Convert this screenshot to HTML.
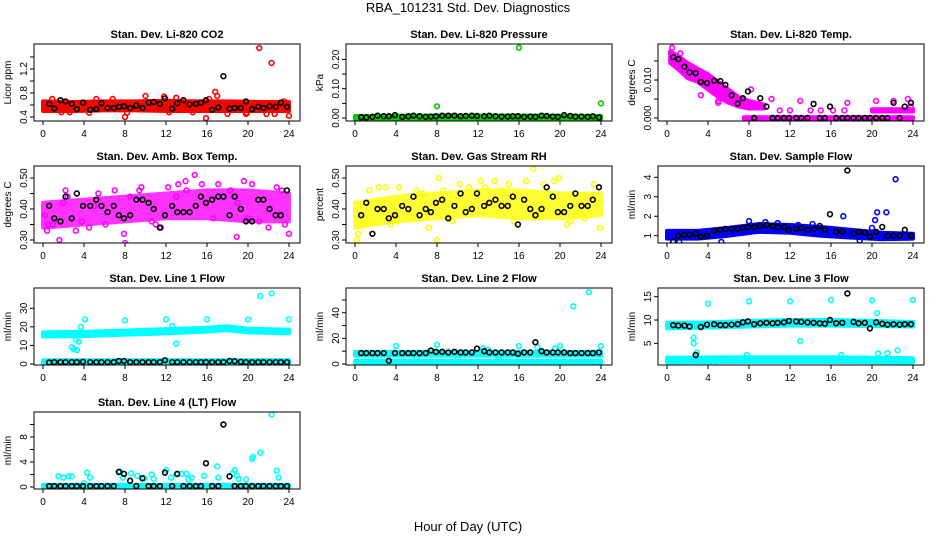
<!DOCTYPE html>
<html><head><meta charset="utf-8"><style>
html,body{margin:0;padding:0;background:#fff;}
svg{display:block;font-family:"Liberation Sans",Arial,sans-serif;}
</style></head><body>
<svg id="chart" width="936" height="540" viewBox="0 0 936 540" xmlns="http://www.w3.org/2000/svg">
<text x="468" y="12" font-size="13" text-anchor="middle">RBA_101231  Std. Dev. Diagnostics</text>
<text x="468" y="531" font-size="13" text-anchor="middle">Hour of Day (UTC)</text>
</svg>
<script>
// shared hours of black (hourly-average) points
const blkHours = [0.6,1.1,1.7,2.2,2.8,3.3,3.9,4.6,5.2,5.7,6.3,6.9,7.4,7.9,8.5,9.1,9.7,10.3,10.8,11.4,11.9,12.6,13.1,13.7,14.3,14.9,15.4,15.9,16.5,17.1,17.6,18.2,18.7,19.3,19.8,20.4,21.0,21.5,22.1,22.7,23.2,23.8];
const xTicks = [0,4,8,12,16,20,24];

// Panel 1 CO2
const p1Blk = [0.62,0.54,0.68,0.66,0.62,0.53,0.64,0.52,0.53,0.63,0.55,0.55,0.57,0.58,0.55,0.59,0.55,0.64,0.65,0.62,0.71,0.54,0.63,0.68,0.61,0.62,0.64,0.68,0.52,0.56,1.08,0.54,0.55,0.55,0.66,0.53,0.57,0.55,0.58,0.57,0.64,0.57];
const p1BandH = [0,3,6,9,12,15,18,21,24];
const p1BandLo = [0.50,0.50,0.51,0.51,0.50,0.50,0.50,0.50,0.50];
const p1BandHi = [0.66,0.65,0.66,0.66,0.67,0.66,0.66,0.65,0.65];
const p1ColX = [21.1,22.3,24,8,15.9,16.8,17,10,0.9,2.6,4.5,5.2,11.8,12.3,14.6,18,19.8,21.8,22.6,23.5,1.8,6.8,8.2,13,16.2,19.9];
const p1ColY = [1.55,1.3,0.42,0.40,0.38,0.82,0.75,0.75,0.70,0.48,0.47,0.70,0.74,0.48,0.48,0.45,0.45,0.45,0.45,0.66,0.48,0.70,0.47,0.72,0.70,0.47];

// Panel 2 Pressure
const p2Blk = [0.003,0.002,0.004,0.008,0.006,0.006,0.010,0.004,0.006,0.008,0.006,0.004,0.005,0.006,0.008,0.008,0.008,0.006,0.007,0.008,0.007,0.006,0.008,0.006,0.005,0.005,0.006,0.006,0.004,0.005,0.004,0.008,0.007,0.005,0.004,0.010,0.007,0.005,0.005,0.004,0.006,0.002];
const p2BandH = [0,6,12,18,24];
const p2BandLo = [-0.004,-0.004,-0.004,-0.004,-0.004];
const p2BandHi = [0.007,0.008,0.008,0.008,0.007];
const p2ColX = [16,8,24];
const p2ColY = [0.240,0.040,0.050];

// Panel 3 Temp
const p3Blk = [0.016,0.0155,0.0135,0.012,0.0118,0.0095,0.0092,0.0098,0.0097,0.0087,0.006,0.0038,0.0052,0.007,0.0,0.0052,0.003,0,0,0,0,0,0,0,0.0037,0,0,0.003,0,0,0,0,0,0,0,0,0,0,0.004,0,0.003,0.004];
const p3BandH = [0.3,1,2,3,4,5,6,7,8,9.5];
const p3BandLo = [0.0145,0.013,0.0105,0.0095,0.0075,0.0055,0.004,0.003,0.0025,0.0025];
const p3BandHi = [0.0175,0.0165,0.0145,0.013,0.0115,0.0095,0.0075,0.0055,0.0045,0.0035];
const p3Band2H = [7.5,24];
const p3Band2Lo = [-0.0002,-0.0002];
const p3Band2Hi = [0.0002,0.0002];
const p3Band3H = [20,24];
const p3Band3Lo = [0.0017,0.0017];
const p3Band3Hi = [0.0023,0.0023];
const p3ColX = [0.5,1.3,3.3,5.0,5.0,8.2,10.2,11,12,13,14,15,16.2,17.3,17.6,20.4,22.1,23.5,23.8];
const p3ColY = [0.0185,0.017,0.006,0.0045,0.004,0.0075,0.005,0.002,0.002,0.0045,0.002,0.002,0.002,0.002,0.004,0.0045,0.0045,0.005,0.003];

// Panel 4 Amb Box Temp
const p4Blk = [0.41,0.37,0.36,0.44,0.37,0.45,0.41,0.41,0.43,0.41,0.39,0.41,0.38,0.37,0.38,0.43,0.43,0.42,0.40,0.34,0.38,0.41,0.39,0.39,0.39,0.41,0.44,0.42,0.43,0.44,0.44,0.38,0.44,0.40,0.36,0.36,0.43,0.43,0.40,0.38,0.38,0.46];
const p4BandH = [0,4,8,12,16,20,24];
const p4BandLo = [0.34,0.35,0.36,0.37,0.37,0.36,0.36];
const p4BandHi = [0.42,0.43,0.44,0.45,0.46,0.46,0.45];
const p4ColX = [0.2,0.4,1.0,1.6,2.2,2.4,3.2,3.8,4.5,5.4,6.1,7.0,7.9,8.0,9.4,9.6,10.6,11.5,12.2,13.2,13.9,14.8,15.5,16.6,17.1,18.3,18.9,19.6,20.4,21.1,22.0,22.8,23.3,24.0,0.5,2.0,5.0,8.5,11.0,13.0,14.0,19.0,20.0,23.6];
const p4ColY = [0.38,0.33,0.35,0.30,0.46,0.44,0.33,0.36,0.34,0.45,0.35,0.46,0.32,0.29,0.46,0.47,0.36,0.34,0.47,0.48,0.49,0.51,0.48,0.37,0.48,0.46,0.31,0.49,0.48,0.36,0.34,0.47,0.46,0.32,0.35,0.42,0.41,0.44,0.35,0.44,0.46,0.42,0.37,0.35];

// Panel 5 Gas stream RH
const p5Blk = [0.38,0.42,0.32,0.40,0.40,0.37,0.38,0.41,0.40,0.44,0.38,0.40,0.39,0.42,0.43,0.37,0.41,0.45,0.39,0.40,0.45,0.41,0.42,0.43,0.41,0.41,0.44,0.35,0.43,0.40,0.38,0.40,0.47,0.44,0.39,0.39,0.41,0.45,0.41,0.41,0.43,0.47];
const p5BandH = [0,4,8,12,16,20,24];
const p5BandLo = [0.34,0.36,0.37,0.38,0.37,0.37,0.38];
const p5BandHi = [0.42,0.44,0.45,0.46,0.46,0.45,0.45];
const p5ColX = [0.2,0.3,0.8,1.4,2.3,3.0,3.5,4.1,4.3,5.7,6.6,7.2,8.0,8.2,8.6,10.2,11.1,12.3,13.6,14.3,15.5,16.7,17.4,18.4,19.4,19.9,20.7,21.6,22.4,23.3,23.9,1.6,6.0,9.5,12.7,15.0,18.0,21.0];
const p5ColY = [0.30,0.32,0.35,0.46,0.47,0.47,0.35,0.36,0.47,0.37,0.45,0.34,0.30,0.50,0.46,0.48,0.47,0.49,0.49,0.46,0.36,0.49,0.53,0.48,0.49,0.50,0.35,0.38,0.37,0.48,0.34,0.36,0.46,0.36,0.47,0.48,0.38,0.36];

// Panel 6 Sample Flow
const p6Blk = [0.72,1.0,1.05,1.05,1.1,0.95,1.0,1.25,1.3,1.35,1.35,1.35,1.4,1.45,1.45,1.5,1.55,1.5,1.45,1.45,1.3,1.35,1.4,1.3,1.35,1.5,1.3,2.1,1.2,1.2,4.35,1.1,1.2,1.15,0.95,1.2,1.45,1.0,1.0,1.0,1.3,1.0];
const p6BandH = [0,3,6,9,12,15,18,21,24];
const p6BandLo = [0.85,0.85,1.0,1.2,1.15,1.0,0.9,0.82,0.85];
const p6BandHi = [1.25,1.25,1.4,1.6,1.55,1.45,1.3,1.15,1.1];
const p6ColX = [17.2,22.3,20.5,20.3,21.4,20.0,8.0,5.3,1.2,9.6,12.8,14.2,18.8,23.4,10.8];
const p6ColY = [2.0,3.9,2.2,1.8,2.2,1.4,1.75,0.68,0.68,1.7,1.55,1.6,0.75,0.9,1.65];

// Panel 7 Line 1 Flow
const p7Blk = [0.8,1.0,1.0,1.0,1.0,1.0,1.2,1.0,1.0,1.0,1.0,1.0,1.6,1.6,1.0,1.0,1.0,1.0,1.0,1.0,2.0,1.0,1.0,1.0,1.0,1.0,1.0,1.0,1.0,1.0,1.0,1.6,1.5,1.2,1.0,1.0,1.0,1.0,1.0,1.0,1.0,1.0];
const p7BandH = [0,4,8,12,16,18,20,24];
const p7BandLo = [14.8,15.0,15.8,16.5,17.5,18.2,17.0,16.5];
const p7BandHi = [17.0,17.3,18.0,18.8,19.5,20.3,19.0,18.5];
const p7Band2H = [0,24];
const p7Band2Lo = [-0.3,-0.3];
const p7Band2Hi = [2.0,2.0];
const p7ColX = [3.0,3.3,3.5,3.7,4.1,8.0,12.0,12.6,13.0,16.0,20.0,21.2,22.3,24.0,2.8,3.2];
const p7ColY = [8.0,7.5,12.0,20.0,24.0,23.5,24.0,20.5,11.0,24.0,24.0,36.5,38.0,24.0,9.0,13.0];

// Panel 8 Line 2 Flow
const p8Blk = [8.5,8.5,8.5,8.5,8.5,2.5,8.5,8.5,8.5,8.5,8.5,8.5,10.5,9.5,9.5,9.0,9.5,9.0,9.0,9.0,12.0,10.0,9.0,9.0,9.0,9.0,9.0,8.0,9.0,9.0,17.0,10.0,9.0,9.0,9.0,9.0,8.5,8.5,8.5,8.5,8.5,9.0];
const p8BandH = [0,24];
const p8BandLo = [6.5,6.5];
const p8BandHi = [9.5,9.5];
const p8Band2H = [0,24];
const p8Band2Lo = [-0.5,-0.5];
const p8Band2Hi = [2.5,2.5];
const p8ColX = [4.0,8.0,16.0,20.0,21.3,22.8,24.0,12.5,13.0,17.8,19.5,2.0,6.0,10.0,14.0];
const p8ColY = [14.0,15.0,14.0,14.0,45.0,56.0,14.0,12.0,11.0,13.0,12.0,4.0,4.0,3.5,4.0];

// Panel 9 Line 3 Flow
const p9Blk = [8.9,8.8,8.8,8.6,2.5,8.5,9.0,9.1,8.9,8.9,9.0,9.1,9.5,9.7,9.1,9.3,9.4,9.3,9.4,9.5,9.8,9.7,9.6,9.5,9.4,9.3,9.2,10.0,9.3,9.4,15.7,9.6,9.3,9.4,8.2,9.5,9.2,9.0,9.1,9.0,9.1,9.1];
const p9BandH = [0,4,8,12,16,20,24];
const p9BandLo = [8.2,8.4,8.6,8.8,8.8,8.7,8.6];
const p9BandHi = [9.4,9.5,9.8,10.0,10.0,9.8,9.6];
const p9Band2H = [0,8,16,24];
const p9Band2Lo = [0.9,1.0,1.0,0.9];
const p9Band2Hi = [1.9,2.0,2.0,1.8];
const p9ColX = [4.0,8.0,12.0,16.0,20.0,24.0,20.5,13.0,2.6,2.6,2.9,4.5,7.8,17.0,20.6,21.5,22.5,1.0];
const p9ColY = [13.5,14.0,14.0,14.3,14.2,14.3,11.5,5.5,6.2,5.0,3.0,0.5,2.5,2.5,2.8,2.9,3.5,0.8];

// Panel 10 Line 4 (LT) Flow
const p10Blk = [0.15,0.15,0.15,0.15,0.15,0.15,0.15,0.15,0.15,0.15,0.15,0.15,2.4,2.1,1.0,0.15,1.4,0.15,0.15,0.15,2.3,0.15,2.1,0.15,0.15,0.15,0.15,3.8,0.15,0.15,10.0,1.7,0.15,0.15,0.15,0.15,0.15,0.15,0.15,0.15,0.15,0.15];
const p10BandH = [0,24];
const p10BandLo = [-0.1,-0.1];
const p10BandHi = [0.35,0.35];
const p10ColX = [1.5,2.0,2.5,2.8,4.3,4.6,7.5,8.6,9.2,10.6,10.8,12.0,13.0,13.5,14.0,14.5,15.7,17.0,17.1,18.7,18.9,19.8,20.4,20.5,21.2,22.3,22.8,23.0,12.5,4.0,7.8,9.9,14.2,18.5,19.1];
const p10ColY = [1.7,1.5,1.7,1.7,2.3,1.5,2.5,2.2,1.8,2.0,1.3,2.7,2.0,2.1,2.1,1.5,1.8,3.3,1.5,2.7,1.8,1.2,4.5,4.8,5.5,11.6,2.6,1.5,1.5,0.6,1.5,1.4,1.2,2.2,1.3];

const NS = "http://www.w3.org/2000/svg";
const svg = document.getElementById('chart');
const colLeft = [34,346,658], rowTop = [44,166,288,412], W = 266, H = 77;

const panels = [
 {name:'co2',title:'Stan. Dev. Li-820 CO2',ylab:'Licor ppm',r:0,c:0,vb:0.333,vt:1.617,ticks:[0.4,0.6,0.8,1.0,1.2,1.4],labels:{'0.4':'0.4','0.8':'0.8','1.2':'1.2'},col:'#ff0000',op:1,blk:p1Blk,bands:[[p1BandH,p1BandLo,p1BandHi]],cx:p1ColX,cy:p1ColY},
 {name:'pressure',title:'Stan. Dev. Li-820 Pressure',ylab:'kPa',r:0,c:1,vb:-0.0102,vt:0.2526,ticks:[0,0.05,0.1,0.15,0.2],labels:{'0':'0.00','0.1':'0.10','0.2':'0.20'},col:'#00cc00',op:1,blk:p2Blk,bands:[[p2BandH,p2BandLo,p2BandHi]],cx:p2ColX,cy:p2ColY},
 {name:'temp',title:'Stan. Dev. Li-820 Temp.',ylab:'degrees C',r:0,c:2,vb:-0.00079,vt:0.01947,ticks:[0,0.005,0.01,0.015],labels:{'0':'0.000','0.01':'0.010'},col:'#ff00ff',op:1,blk:p3Blk,bands:[[p3BandH,p3BandLo,p3BandHi],[p3Band2H,p3Band2Lo,p3Band2Hi],[p3Band3H,p3Band3Lo,p3Band3Hi]],cx:p3ColX,cy:p3ColY},
 {name:'amb-box-temp',title:'Stan. Dev. Amb. Box Temp.',ylab:'degrees C',r:1,c:0,vb:0.2903,vt:0.5387,ticks:[0.3,0.35,0.4,0.45,0.5],labels:{'0.3':'0.30','0.4':'0.40','0.5':'0.50'},col:'#ff00ff',op:0.8,blk:p4Blk,bands:[[p4BandH,p4BandLo,p4BandHi]],cx:p4ColX,cy:p4ColY},
 {name:'gas-stream-rh',title:'Stan. Dev. Gas Stream RH',ylab:'percent',r:1,c:1,vb:0.2903,vt:0.5387,ticks:[0.3,0.35,0.4,0.45,0.5],labels:{'0.3':'0.30','0.4':'0.40','0.5':'0.50'},col:'#ffff00',op:0.8,blk:p5Blk,bands:[[p5BandH,p5BandLo,p5BandHi]],cx:p5ColX,cy:p5ColY},
 {name:'sample-flow',title:'Stan. Dev. Sample Flow',ylab:'ml/min',r:1,c:2,vb:0.625,vt:4.58,ticks:[1,2,3,4],labels:{'1':'1','2':'2','3':'3','4':'4'},col:'#0000ff',op:1,blk:p6Blk,bands:[[p6BandH,p6BandLo,p6BandHi]],cx:p6ColX,cy:p6ColY},
 {name:'line1-flow',title:'Stan. Dev. Line 1 Flow',ylab:'ml/min',r:2,c:0,vb:-0.54,vt:40.9,ticks:[0,10,20,30],labels:{'0':'0','10':'10','20':'20','30':'30'},col:'#00ffff',op:1,blk:p7Blk,bands:[[p7BandH,p7BandLo,p7BandHi],[p7Band2H,p7Band2Lo,p7Band2Hi]],cx:p7ColX,cy:p7ColY},
 {name:'line2-flow',title:'Stan. Dev. Line 2 Flow',ylab:'ml/min',r:2,c:1,vb:-0.78,vt:59.3,ticks:[0,10,20,30,40,50],labels:{'0':'0','20':'20','40':'40'},col:'#00ffff',op:1,blk:p8Blk,bands:[[p8BandH,p8BandLo,p8BandHi],[p8Band2H,p8Band2Lo,p8Band2Hi]],cx:p8ColX,cy:p8ColY},
 {name:'line3-flow',title:'Stan. Dev. Line 3 Flow',ylab:'ml/min',r:2,c:2,vb:0.34,vt:16.87,ticks:[5,10,15],labels:{'5':'5','10':'10','15':'15'},col:'#00ffff',op:1,blk:p9Blk,bands:[[p9BandH,p9BandLo,p9BandHi],[p9Band2H,p9Band2Lo,p9Band2Hi]],cx:p9ColX,cy:p9ColY},
 {name:'line4-flow',title:'Stan. Dev. Line 4 (LT) Flow',ylab:'ml/min',r:3,c:0,vb:-0.32,vt:12.0,ticks:[0,2,4,6,8,10],labels:{'0':'0','4':'4','8':'8'},col:'#00ffff',op:1,blk:p10Blk,bands:[[p10BandH,p10BandLo,p10BandHi]],cx:p10ColX,cy:p10ColY}
];

function mk(tag, attrs, parent){ const e=document.createElementNS(NS,tag); for(const k in attrs) e.setAttribute(k,attrs[k]); (parent||svg).appendChild(e); return e; }

panels.forEach(p=>{
  const L=colLeft[p.c], T=rowTop[p.r];
  const xs = h => L + 9 + h*246/24;
  const ys = v => T + H - (v - p.vb)/(p.vt - p.vb)*H;
  const g = mk('g',{});
  
  
  const clipId='clip-'+p.name;
  const cp = mk('clipPath',{id:clipId},g); mk('rect',{x:L,y:T,width:W,height:H},cp);
  const dg = mk('g',{'clip-path':'url(#'+clipId+')'},g);
  p.bands.forEach(b=>{
    const [bh,lo,hi]=b;
    let pts=[]; bh.forEach((h,i)=>pts.push(xs(h)+','+ys(hi[i])));
    for(let i=bh.length-1;i>=0;i--) pts.push(xs(bh[i])+','+ys(lo[i]));
    const poly = mk('polygon',{points:pts.join(' '),fill:p.col,stroke:p.col,'stroke-width':4,'stroke-linejoin':'round',opacity:p.op},dg);
    
    
  });
  p.cx.forEach((h,i)=>{
    const c = mk('circle',{cx:xs(h),cy:ys(p.cy[i]),r:2.4,fill:'none',stroke:p.col,'stroke-width':1.6},dg);
    
    
  });
  blkHours.forEach((h,i)=>{
    const c = mk('circle',{cx:xs(h),cy:ys(p.blk[i]),r:2.4,fill:'none',stroke:'#000','stroke-width':1.6},dg);
    
    
  });
  const box = mk('rect',{x:L,y:T,width:W,height:H,fill:'none',stroke:'#000','stroke-width':1},g);
  
  
  const t = mk('text',{x:L+W/2,y:T-6,'font-size':11,'font-weight':'bold','text-anchor':'middle'},g);
  t.textContent=p.title;
  
  
  const yl = mk('text',{x:0,y:0,'font-size':10,'text-anchor':'middle',transform:'translate('+(L-23)+','+(T+H/2)+') rotate(-90)'},g);
  yl.textContent=p.ylab;
  
  
  xTicks.forEach(h=>{
    mk('line',{x1:xs(h),x2:xs(h),y1:T+H,y2:T+H+4,stroke:'#000'},g);
    const tx = mk('text',{x:xs(h),y:T+H+16,'font-size':10,'text-anchor':'middle'},g);
    tx.textContent=h;
    
    
  });
  p.ticks.forEach(v=>{
    const y=ys(v);
    mk('line',{x1:L-4,x2:L,y1:y,y2:y,stroke:'#000'},g);
    const lab = p.labels[String(v)];
    if(lab){
      const tx = mk('text',{x:0,y:0,'font-size':10,'text-anchor':'middle',transform:'translate('+(L-7)+','+y+') rotate(-90)'},g);
      tx.textContent=lab;
      
      
    }
  });
});
</script>
</body></html>
